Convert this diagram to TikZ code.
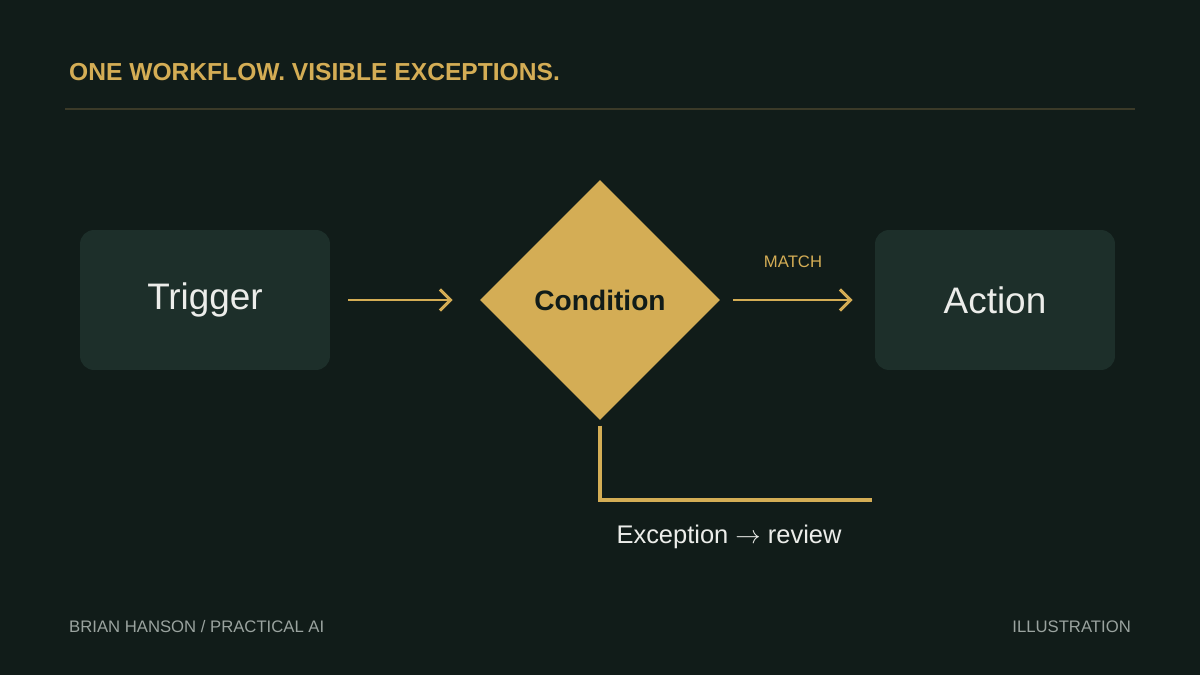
\documentclass[tikz,border=0pt]{standalone}
\usepackage{fontspec}
\setmainfont{Liberation Sans}
\usetikzlibrary{arrows.meta,shapes.geometric}
\definecolor{bgdark}{HTML}{111C19}
\definecolor{gold}{HTML}{D4AD55}
\definecolor{boxfill}{HTML}{1D2F2A}
\definecolor{softwhite}{HTML}{ECEDEA}
\definecolor{footgray}{HTML}{9AA39F}
\definecolor{rulecol}{HTML}{3B3A28}
\begin{document}
\begin{tikzpicture}[x=0.02cm,y=-0.02cm]
        \tikzset{stage/.style = {draw=none,fill=boxfill,rounded corners=8pt,text=softwhite,font=\fontsize{21}{24}\selectfont}}
        \tikzset{flow/.style = {-{Straight Barb[length=6pt,width=12pt]},draw=gold,line width=1.7pt}}
        \tikzset{foot/.style = {text=footgray,font=\fontsize{9.5}{11}\selectfont}}
        % background
        \fill[bgdark] (0,0) rectangle (1200,675);
        \useasboundingbox (0,0) rectangle (1200,675);
        % header
        \node[anchor=west,text=gold,font=\bfseries\fontsize{14}{17}\selectfont] (title) at (63,72) {ONE WORKFLOW. VISIBLE EXCEPTIONS.};
        \draw[rulecol,line width=0.6pt] (65,109) -- (1135,109);
        % nodes
        \node[stage,minimum width=5cm,minimum height=2.8cm] (trigger) at (205,300) {Trigger};
        \node[diamond,fill=gold,minimum width=4.8cm,minimum height=4.8cm,inner sep=0pt,text=bgdark,font=\bfseries\fontsize{16}{19}\selectfont] (cond) at (600,300) {Condition};
        \node[stage,minimum width=4.8cm,minimum height=2.8cm] (action) at (995,300) {Action};
        \coordinate (review) at (872,500);
        % edges
        \draw[flow] ([xshift=0.36cm]trigger.east) -- ([xshift=-0.54cm]cond.west);
        \draw[flow] ([xshift=0.26cm]cond.east) -- node[above=14pt,text=gold,font=\fontsize{9.5}{11}\selectfont] {MATCH} ([xshift=-0.44cm]action.west);
        \draw[gold,line width=2.3pt] ([yshift=-3pt]cond.south) |- (review);
        \node[text=softwhite,font=\fontsize{14.5}{17}\selectfont] (exc) at (729,537) {Exception $\rightarrow$ review};
        % footer
        \node[foot,anchor=west] (author) at (63,627) {BRIAN HANSON / PRACTICAL AI};
        \node[foot,anchor=east] (kind) at (1137,627) {ILLUSTRATION};
\end{tikzpicture}
\end{document}
